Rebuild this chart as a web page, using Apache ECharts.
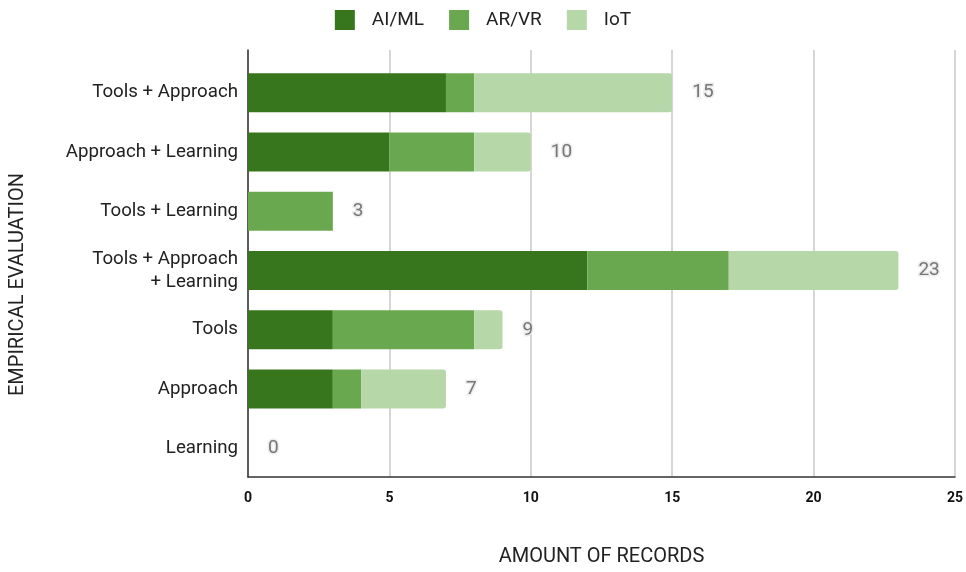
<!DOCTYPE html>
<html>
<head>
<meta charset="utf-8">
<script src="https://cdn.jsdelivr.net/npm/echarts@6/dist/echarts.min.js"></script>
<style>
  html, body { margin: 0; padding: 0; background: #fff; }
  #chart { width: 966px; height: 572px; }
</style>
</head>
<body>
<div id="chart"></div>
<script>
// Categories, top to bottom
const categories = [
  'Tools + Approach',
  'Approach + Learning',
  'Tools + Learning',
  'Tools + Approach\n+ Learning',
  'Tools',
  'Approach',
  'Learning'
];
const seriesNames = ['AI/ML', 'AR/VR', 'IoT'];
const aiml = [7, 5, 0, 12, 3, 3, 0];
const arvr = [1, 3, 3, 5, 5, 1, 0];
const iot  = [7, 2, 0, 6, 1, 3, 0];
const xTicks = [0, 5, 10, 15, 20, 25];

const colors = ['#38761d', '#6aa84f', '#b6d7a8'];
const totals = categories.map((_, i) => aiml[i] + arvr[i] + iot[i]);
const font = 'Roboto, "Liberation Sans", sans-serif';

const chart = echarts.init(document.getElementById('chart'));

const valueSeries = [aiml, arvr, iot].map((vals, k) => ({
  name: seriesNames[k],
  type: 'bar',
  stack: 'total',
  xAxisIndex: 1,
  yAxisIndex: 1,
  barWidth: 39,
  itemStyle: {
    color: colors[k],
    borderRadius: k === 2 ? [0, 3, 3, 0] : 0
  },
  label: k === 2 ? {
    show: true,
    position: 'right',
    distance: 20,
    formatter: p => String(totals[p.dataIndex]),
    color: '#777',
    fontFamily: font,
    fontSize: 19,
    textBorderColor: 'rgba(235,235,235,0.95)',
    textBorderWidth: 3
  } : { show: false },
  emphasis: { disabled: true },
  data: vals
}));

chart.setOption({
  animation: false,
  textStyle: { fontFamily: font },
  legend: {
    top: 5,
    left: 'center',
    itemWidth: 20,
    itemHeight: 20,
    itemGap: 25,
    icon: 'rect',
    data: seriesNames,
    textStyle: { fontSize: 19, color: '#222', fontFamily: font, padding: [0, 0, 0, 12] }
  },
  grid: [
    // frame: gridlines, bottom axis and left axis line
    { left: 248, right: 11, top: 50, bottom: 86, containLabel: false },
    // bars and category labels
    { left: 248, right: 11, top: 63, bottom: 94, containLabel: false }
  ],
  xAxis: [
    {
      gridIndex: 0,
      type: 'value',
      min: 0,
      max: 25,
      interval: 5,
      axisLine: { show: true, lineStyle: { color: '#333', width: 1.5 } },
      axisTick: { show: false },
      splitLine: { show: true, lineStyle: { color: '#c8c8c8', width: 1.5 } },
      axisLabel: {
        color: '#111',
        fontWeight: 'bold',
        fontSize: 14,
        margin: 14,
        formatter: v => xTicks.includes(v) ? String(v) : ''
      },
      name: 'AMOUNT OF RECORDS',
      nameLocation: 'middle',
      nameGap: 70,
      nameTextStyle: { fontSize: 20, color: '#222', fontFamily: font }
    },
    {
      gridIndex: 1,
      type: 'value',
      min: 0,
      max: 25,
      show: false
    }
  ],
  yAxis: [
    {
      gridIndex: 0,
      type: 'value',
      min: 0,
      max: 1,
      axisLine: { show: true, onZero: false, lineStyle: { color: '#333', width: 1.5 } },
      axisTick: { show: false },
      axisLabel: { show: false },
      splitLine: { show: false }
    },
    {
      gridIndex: 1,
      type: 'category',
      inverse: true,
      data: categories,
      axisLine: { show: false },
      axisTick: { show: false },
      splitLine: { show: false },
      axisLabel: {
        color: '#222',
        fontSize: 18.7,
        margin: 10,
        lineHeight: 23,
        align: 'right'
      },
      name: 'EMPIRICAL EVALUATION',
      nameLocation: 'middle',
      nameGap: 220,
      nameRotate: 90,
      nameTextStyle: { fontSize: 20, color: '#222', fontFamily: font, padding: [0, 28, 0, 0] }
    }
  ],
  series: valueSeries
});
</script>
</body>
</html>
